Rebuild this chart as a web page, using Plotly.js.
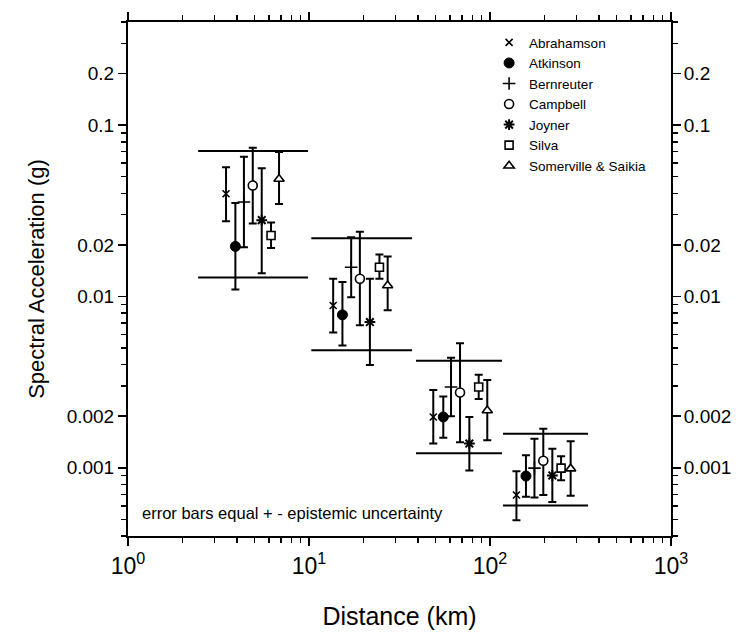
<!DOCTYPE html>
<html>
<head>
<meta charset="utf-8">
<script src="https://cdn.plot.ly/plotly-3.0.1.min.js"></script>
<style>html,body{margin:0;padding:0;background:#fff;} #chart{width:746px;height:638px;}</style>
</head>
<body>
<div id="chart"></div>
<script>
// ---- data ----
const models = ['Abrahamson', 'Atkinson', 'Bernreuter', 'Campbell', 'Joyner', 'Silva', 'Somerville & Saikia'];

// distance (km) of each model's point in the four distance bins
const distKm = [
  [3.48, 13.6, 48.6, 140],
  [3.92, 15.3, 55.2, 158],
  [4.37, 17.1, 60.9, 176],
  [4.89, 19.1, 68.3, 197],
  [5.48, 21.7, 76.9, 221],
  [6.17, 24.5, 86.6, 247],
  [6.83, 27.2, 96.6, 279]
];
// median spectral acceleration (g)
const saMedian = [
  [0.0398, 0.00886, 0.00198, 0.000694],
  [0.0196, 0.00781, 0.00198, 0.000895],
  [0.0356, 0.0148, 0.00296, 0.000996],
  [0.0444, 0.0127, 0.00275, 0.00110],
  [0.0279, 0.00709, 0.001385, 0.000902],
  [0.0227, 0.0148, 0.00296, 0.000996],
  [0.0485, 0.0116, 0.00216, 0.000989]
];
// lower end of error bar (g)
const saLower = [
  [0.0275, 0.00617, 0.001385, 0.000494],
  [0.0110, 0.00518, 0.00150, 0.000679],
  [0.0194, 0.00989, 0.00200, 0.000670],
  [0.0267, 0.00679, 0.00141, 0.000694],
  [0.01365, 0.00398, 0.000964, 0.000631],
  [0.0192, 0.0127, 0.00252, 0.000845],
  [0.0346, 0.0083, 0.00145, 0.000688]
];
// upper end of error bar (g)
const saUpper = [
  [0.0568, 0.01269, 0.00285, 0.000955],
  [0.0351, 0.01213, 0.00261, 0.001184],
  [0.0653, 0.0222, 0.00439, 0.00148],
  [0.0738, 0.0239, 0.00534, 0.00169],
  [0.0560, 0.0127, 0.00198, 0.00129],
  [0.0270, 0.0176, 0.00349, 0.00117],
  [0.0697, 0.0171, 0.00325, 0.00143]
];

// distance bins and the overall range lines
const binMin = [2.44, 10.3, 39.0, 118];
const binMax = [9.87, 37.1, 116.5, 348];
const binUpper = [0.0706, 0.0219, 0.00422, 0.00158];
const binLower = [0.0129, 0.00485, 0.001215, 0.000603];

// tick labels
const xTickVals = [1, 10, 100, 1000];
const xTickText = ['10<sup>0</sup>', '10<sup>1</sup>', '10<sup>2</sup>', '10<sup>3</sup>'];
const yTickVals = [0.001, 0.002, 0.01, 0.02, 0.1, 0.2];
const yTickText = ['0.001', '0.002', '0.01', '0.02', '0.1', '0.2'];

// ---- styling ----
const FONT = 'Liberation Sans, Arial, Helvetica, sans-serif';
const symbolStyle = [
  {symbol: 'x-thin-open', size: 7, color: '#000', line: {color: '#000', width: 1.6}},
  {symbol: 'circle', size: 10, color: '#000', line: {color: '#000', width: 1}},
  {symbol: 'cross-thin-open', size: 9, color: '#000', line: {color: '#000', width: 1.6}},
  {symbol: 'circle', size: 9, color: '#fff', line: {color: '#000', width: 1.6}},
  {symbol: 'asterisk-open', size: 9, color: '#000', line: {color: '#000', width: 2}},
  {symbol: 'square', size: 8, color: '#fff', line: {color: '#000', width: 1.6}},
  {symbol: 'triangle-up', size: 9, color: '#fff', line: {color: '#000', width: 1.6}}
];

const traces = [];
// horizontal range lines
for (let b = 0; b < binMin.length; b++) {
  [binUpper[b], binLower[b]].forEach(function (lvl) {
    traces.push({
      x: [binMin[b], binMax[b]], y: [lvl, lvl], mode: 'lines',
      line: {color: '#000', width: 2}, showlegend: false, hoverinfo: 'skip'
    });
  });
}
// model points with error bars
models.forEach(function (name, i) {
  const plus = saUpper[i].map(function (u, k) { return u - saMedian[i][k]; });
  const minus = saLower[i].map(function (l, k) { return saMedian[i][k] - l; });
  traces.push({
    name: name, x: distKm[i], y: saMedian[i], mode: 'markers', type: 'scatter',
    marker: symbolStyle[i],
    error_y: {type: 'data', symmetric: false, array: plus, arrayminus: minus,
              color: '#000', thickness: 2, width: 4}
  });
});
// invisible trace for the right-hand axis labels
traces.push({x: [10], y: [0.01], yaxis: 'y2', mode: 'markers', marker: {opacity: 0},
             showlegend: false, hoverinfo: 'skip'});

// minor tick positions
const xMinor = [];
for (let d = 0; d < 3; d++) for (let m = 2; m <= 9; m++) xMinor.push(m * Math.pow(10, d));
const yMinor = [];
for (let d = -4; d <= -1; d++) for (let m = 1; m <= 9; m++) {
  const v = m * Math.pow(10, d);
  if (v >= 0.0004 && v <= 0.4 && yTickVals.indexOf(+v.toPrecision(3)) < 0) yMinor.push(v);
}

const yRange = [Math.log10(0.0004), Math.log10(0.4)];
const yCommon = {
  type: 'log', range: yRange, tickmode: 'array', tickvals: yTickVals, ticktext: yTickText,
  ticks: 'outside', ticklen: 8, tickwidth: 1.5, tickcolor: '#000',
  tickfont: {family: FONT, size: 19, color: '#000'},
  showgrid: false, zeroline: false
};

const layout = {
  width: 746, height: 638,
  margin: {l: 128, r: 75, t: 15, b: 96},
  paper_bgcolor: '#fff', plot_bgcolor: '#fff',
  font: {family: FONT, color: '#000'},
  showlegend: true,
  legend: {x: 0.665, xanchor: 'left', y: 0.99, yanchor: 'top',
           bgcolor: 'rgba(0,0,0,0)', font: {family: FONT, size: 13.5, color: '#000'},
           tracegroupgap: 0},
  xaxis: {
    type: 'log', range: [0, 3], tickmode: 'array', tickvals: xTickVals, ticktext: xTickText,
    ticks: 'outside', ticklen: 8, tickwidth: 1.5, tickcolor: '#000',
    tickfont: {family: FONT, size: 23, color: '#000'},
    minor: {tickmode: 'array', tickvals: xMinor, ticks: 'outside', ticklen: 5, tickwidth: 1.5, tickcolor: '#000', showgrid: false},
    showline: true, linecolor: '#000', linewidth: 2, mirror: 'ticks',
    showgrid: false, zeroline: false,
    title: {text: 'Distance (km)', font: {family: FONT, size: 25, color: '#000'}, standoff: 30},
    automargin: true
  },
  yaxis: Object.assign({}, yCommon, {
    minor: {tickmode: 'array', tickvals: yMinor, ticks: 'outside', ticklen: 5, tickwidth: 1.5, tickcolor: '#000', showgrid: false},
    showline: true, linecolor: '#000', linewidth: 2, mirror: 'ticks',
    title: {text: 'Spectral Acceleration (g)', font: {family: FONT, size: 22, color: '#000'}, standoff: 16},
    automargin: true
  }),
  yaxis2: Object.assign({}, yCommon, {
    overlaying: 'y', side: 'right', showline: false, automargin: false
  }),
  annotations: [{
    text: 'error bars equal + - epistemic uncertainty',
    xref: 'paper', yref: 'paper', x: 0.022, y: 0.045, xanchor: 'left', yanchor: 'middle',
    showarrow: false, font: {family: FONT, size: 16.5, color: '#000'}
  }]
};

Plotly.newPlot('chart', traces, layout, {displayModeBar: false, staticPlot: true});
</script>
</body>
</html>
